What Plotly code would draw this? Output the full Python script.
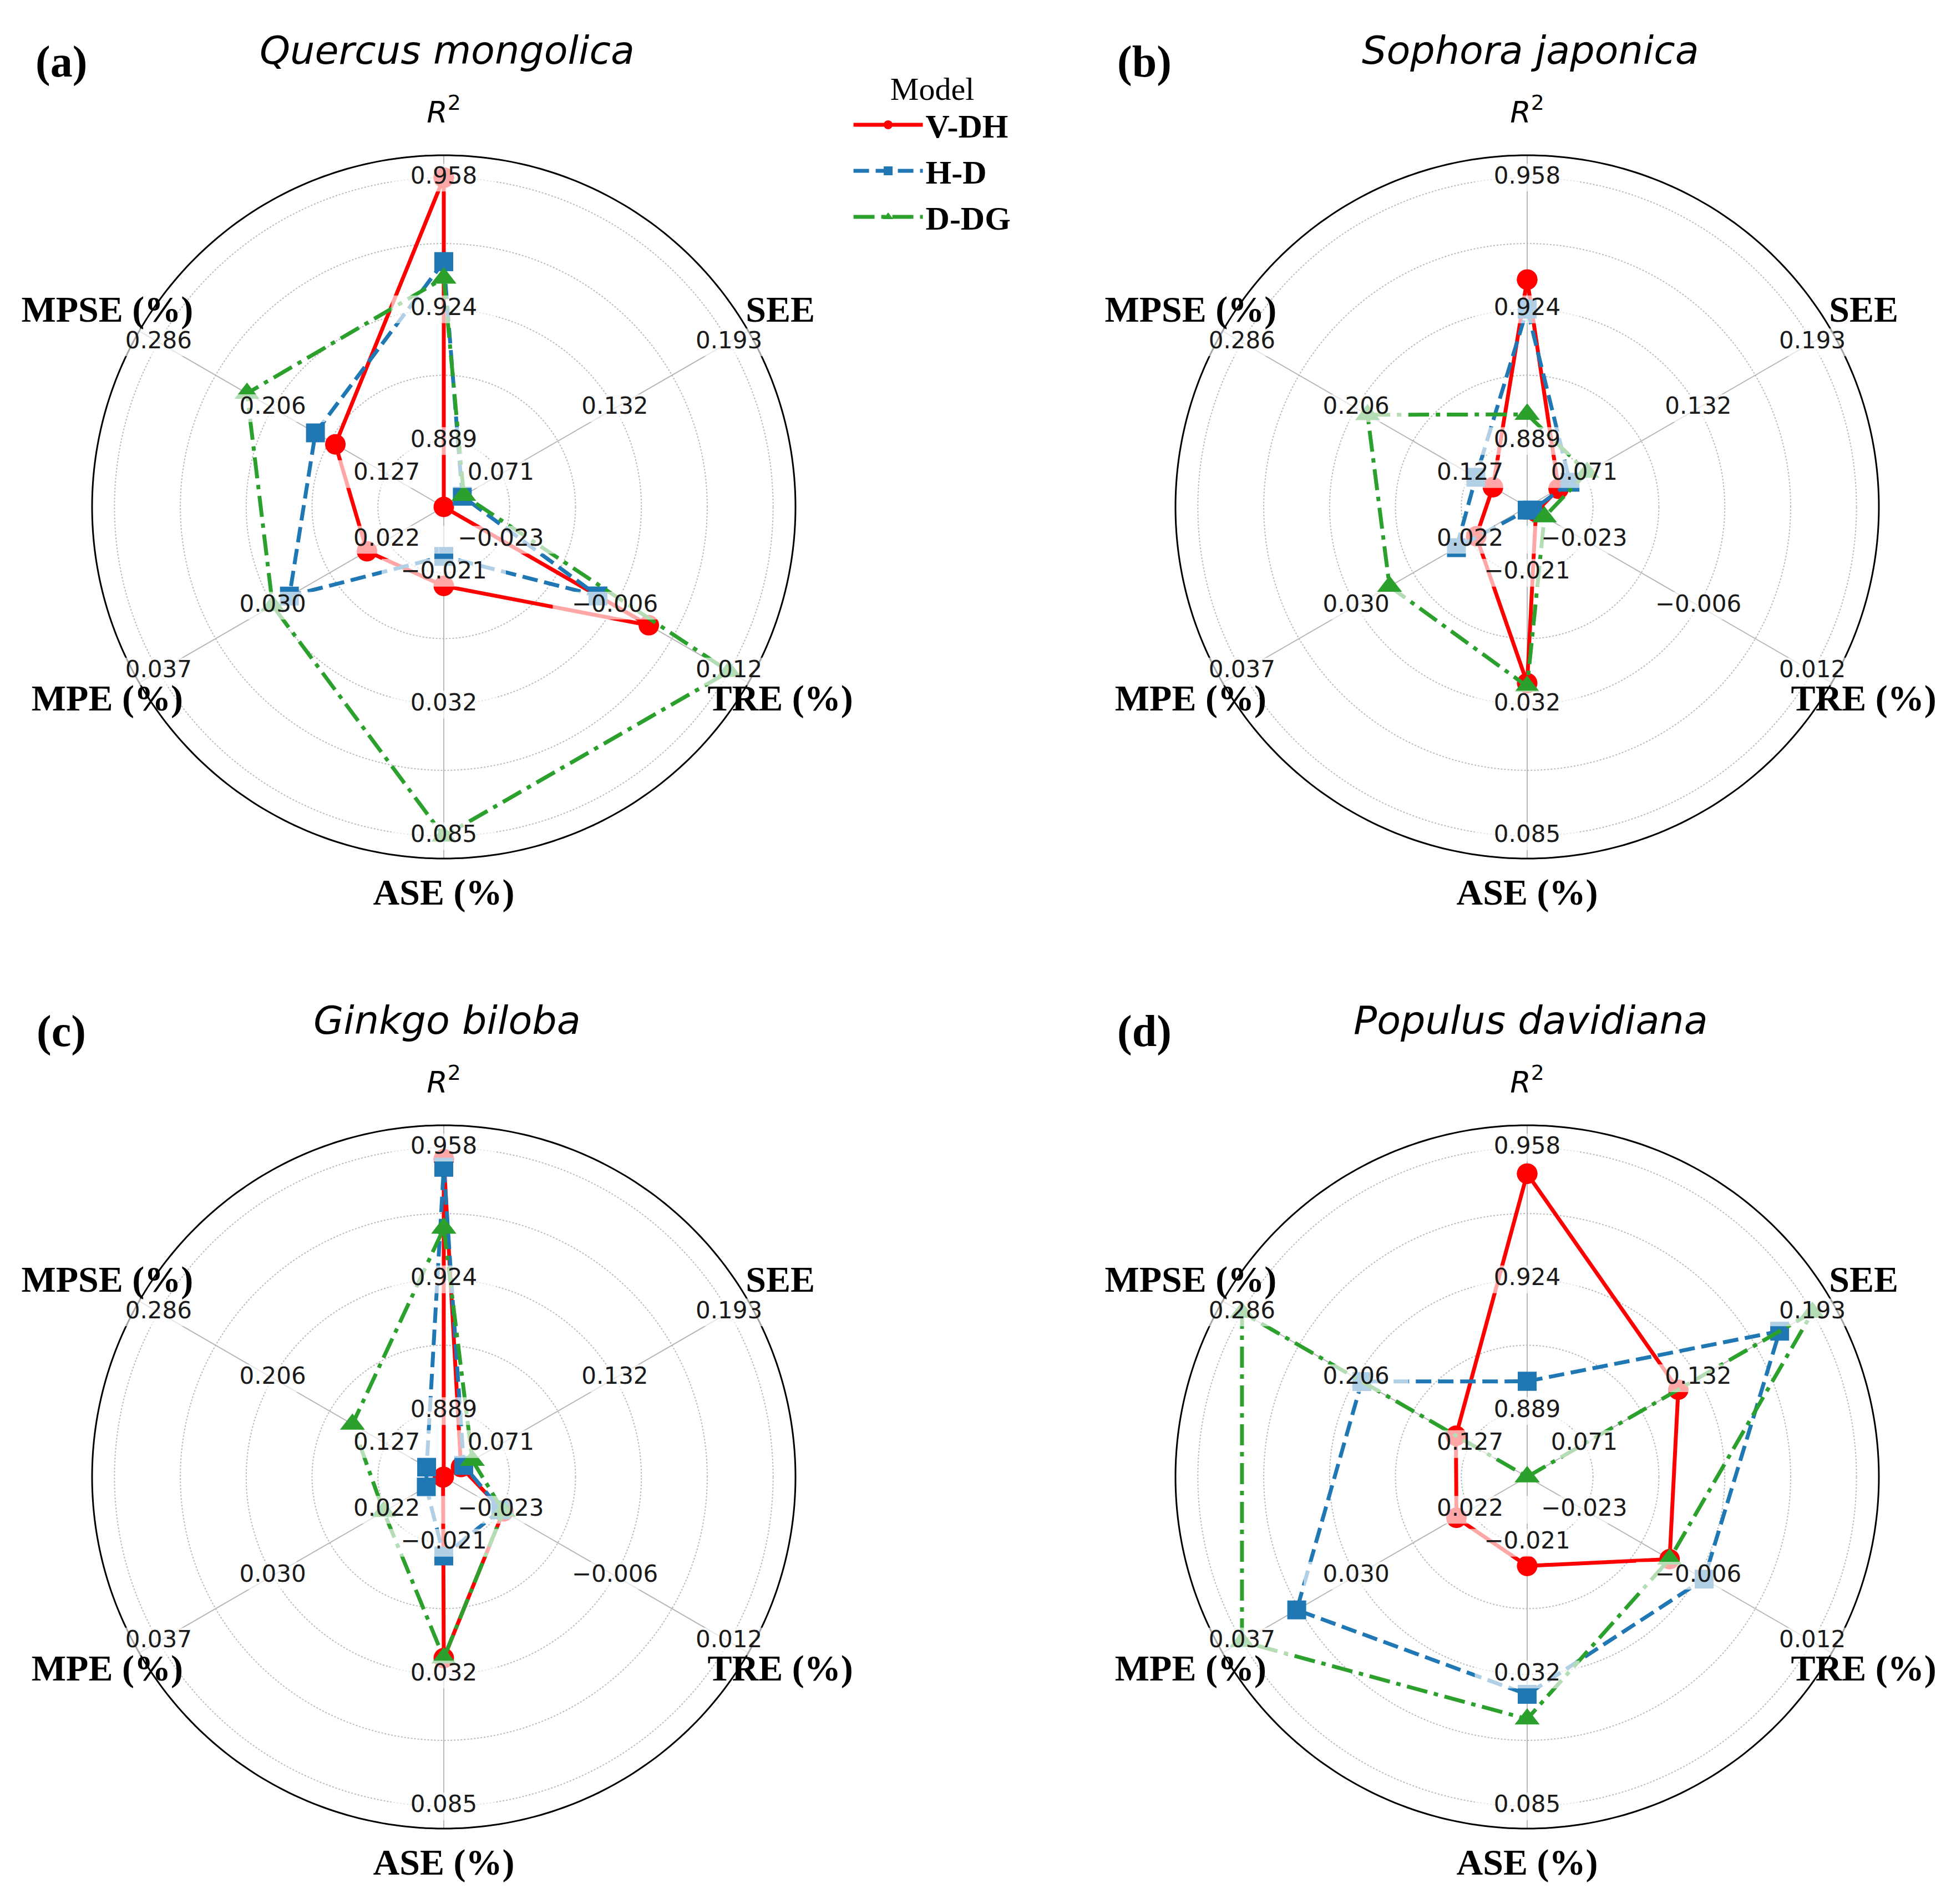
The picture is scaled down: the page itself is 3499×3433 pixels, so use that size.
"""
Radar charts comparing three crown models (V-DH, H-D, D-DG) on six
fit statistics for four tree species. Each spoke has its own scale,
given by the three tick values drawn along it.
"""

import plotly.graph_objects as go


FIG_W = 3499
FIG_H = 3433

# spoke order, clockwise from the top
METRICS = ['R2', 'SEE', 'TRE', 'ASE', 'MPE', 'MPSE']
AXIS_LABELS = ['<i>R</i><sup>2</sup>', '<b>SEE</b>', '<b>TRE (%)</b>',
               '<b>ASE (%)</b>', '<b>MPE (%)</b>', '<b>MPSE (%)</b>']

# tick values on each spoke, shown at radius 0.2, 0.6 and 1.0
TICK_RADII = [0.2, 0.6, 1.0]
r2_ticks = [0.889, 0.924, 0.958]
see_ticks = [0.071, 0.132, 0.193]
tre_ticks = [-0.023, -0.006, 0.012]
ase_ticks = [-0.021, 0.032, 0.085]
mpe_ticks = [0.022, 0.030, 0.037]
mpse_ticks = [0.127, 0.206, 0.286]
TICKS = [r2_ticks, see_ticks, tre_ticks, ase_ticks, mpe_ticks, mpse_ticks]

SPECIES = ['Quercus mongolica', 'Sophora japonica',
           'Ginkgo biloba', 'Populus davidiana']
PANEL_TAGS = ['(a)', '(b)', '(c)', '(d)']
MODELS = ['V-DH', 'H-D', 'D-DG']

# values in METRICS order
quercus_vdh = [0.9580, 0.0405, -0.0003, -0.0157, 0.0233, 0.1628]
quercus_hd = [0.9360, 0.0504, -0.0081, -0.0276, 0.0284, 0.1767]
quercus_ddg = [0.9317, 0.0512, 0.0120, 0.0850, 0.0295, 0.2244]

sophora_vdh = [0.9313, 0.0573, -0.0304, 0.0234, 0.0216, 0.1111]
sophora_hd = [0.9236, 0.0634, -0.0309, -0.0462, 0.0229, 0.1230]
sophora_ddg = [0.8960, 0.0725, -0.0291, 0.0247, 0.0273, 0.1985]

ginkgo_vdh = [0.9550, 0.0497, -0.0226, 0.0254, 0.0183, 0.0873]
ginkgo_hd = [0.9529, 0.0512, -0.0230, -0.0157, 0.0194, 0.0992]
ginkgo_ddg = [0.9369, 0.0558, -0.0226, 0.0254, 0.0222, 0.1509]

populus_vdh = [0.9512, 0.1213, -0.0099, -0.0117, 0.0229, 0.1369]
populus_hd = [0.8968, 0.1755, -0.0046, 0.0400, 0.0334, 0.2025]
populus_ddg = [0.8718, 0.1930, -0.0099, 0.0499, 0.0370, 0.2860]

DATA = [
    [quercus_vdh, quercus_hd, quercus_ddg],
    [sophora_vdh, sophora_hd, sophora_ddg],
    [ginkgo_vdh, ginkgo_hd, ginkgo_ddg],
    [populus_vdh, populus_hd, populus_ddg],
]

STYLES = {
    'V-DH': dict(color='#ff0000', dash='solid', symbol='circle', size=37),
    'H-D': dict(color='#1f77b4', dash='28px,12px', symbol='square', size=34),
    'D-DG': dict(color='#2ca02c', dash='38px,12px,8px,12px',
                 symbol='triangle-up', size=39),
}

# panel centres in pixels (from the top left); the black frame sits at
# R_MAX, and the view reaches R_VIEW so the spoke names fit inside it
CENTERS = [(792, 906), (2745, 906), (792, 2655), (2745, 2655)]
FRAME_PX = 634
R_MAX = 1.068
R_VIEW = 1.25
LABEL_R = 1.18


def to_radius(ticks, value):
    """Maps a metric value onto the normalised radius of its spoke."""
    return 0.2 + 0.8 * (value - ticks[0]) / (ticks[2] - ticks[0])


def tick_text(value):
    return f'{value:.3f}'.replace('-', '\u2212')


def spoke_angles():
    return [i * 360 / len(METRICS) for i in range(len(METRICS))]


def polar_layout(cx, cy):
    half = FRAME_PX * R_VIEW / R_MAX
    x0 = (cx - half) / FIG_W
    x1 = (cx + half) / FIG_W
    y0 = (FIG_H - cy - half) / FIG_H
    y1 = (FIG_H - cy + half) / FIG_H
    return dict(
        domain=dict(x=[x0, x1], y=[y0, y1]),
        bgcolor='rgba(0,0,0,0)',
        radialaxis=dict(range=[0, R_VIEW],
                        tickvals=[0.2, 0.4, 0.6, 0.8, 1.0],
                        showticklabels=False, ticks='', showline=False,
                        gridcolor='#bababa', griddash='dot', gridwidth=2),
        angularaxis=dict(rotation=90, direction='clockwise',
                         showticklabels=False, ticks='', showgrid=False,
                         showline=False),
    )


def add_frame(fig, sub):
    angles = spoke_angles()
    r_sp, t_sp = [], []
    for a in angles:
        r_sp += [0, R_MAX, None]
        t_sp += [a, a, None]
    fig.add_trace(go.Scatterpolar(
        r=r_sp, theta=t_sp, mode='lines', subplot=sub, showlegend=False,
        hoverinfo='skip', line=dict(color='#b8b8b8', width=2)))
    ring = list(range(0, 361))
    fig.add_trace(go.Scatterpolar(
        r=[R_MAX] * len(ring), theta=ring, mode='lines', subplot=sub,
        showlegend=False, hoverinfo='skip',
        line=dict(color='black', width=3)))


def add_panel(fig, k):
    sub = 'polar' if k == 0 else f'polar{k + 1}'
    angles = spoke_angles()
    add_frame(fig, sub)

    for m, model in enumerate(MODELS):
        values = DATA[k][m]
        radii = [to_radius(TICKS[i], v) for i, v in enumerate(values)]
        st = STYLES[model]
        fig.add_trace(go.Scatterpolar(
            r=radii + radii[:1], theta=angles + [360],
            mode='lines+markers', name=model, legendgroup=model,
            showlegend=(k == 0), subplot=sub,
            line=dict(color=st['color'], width=7, dash=st['dash']),
            marker=dict(color=st['color'], symbol=st['symbol'],
                        size=st['size'])))

    # tick labels sit on white boxes that hide the lines beneath
    r_lab, t_lab, s_lab = [], [], []
    for i, ticks in enumerate(TICKS):
        for rad, val in zip(TICK_RADII, ticks):
            r_lab.append(rad)
            t_lab.append(angles[i])
            s_lab.append(tick_text(val))
    fig.add_trace(go.Scatterpolar(
        r=r_lab, theta=t_lab, mode='markers', subplot=sub,
        showlegend=False, hoverinfo='skip',
        marker=dict(symbol='line-ew', size=[len(s) * 25 + 10 for s in s_lab],
                    line=dict(width=50, color='rgba(255,255,255,0.93)'))))
    fig.add_trace(go.Scatterpolar(
        r=r_lab, theta=t_lab, mode='text', text=s_lab, subplot=sub,
        showlegend=False, hoverinfo='skip',
        textfont=dict(family='DejaVu Sans', size=42, color='#1a1a1a')))

    # spoke names just outside the frame
    fig.add_trace(go.Scatterpolar(
        r=[LABEL_R + 0.01], theta=angles[:1], mode='text',
        text=AXIS_LABELS[:1], subplot=sub,
        showlegend=False, hoverinfo='skip',
        textfont=dict(family='DejaVu Sans', size=54, color='black')))
    fig.add_trace(go.Scatterpolar(
        r=[LABEL_R] * (len(METRICS) - 1), theta=angles[1:], mode='text',
        text=AXIS_LABELS[1:], subplot=sub,
        showlegend=False, hoverinfo='skip',
        textfont=dict(family='Liberation Serif', size=66, color='black')))


def main():
    fig = go.Figure()
    for k in range(len(SPECIES)):
        add_panel(fig, k)

    layout = {}
    for k, (cx, cy) in enumerate(CENTERS):
        key = 'polar' if k == 0 else f'polar{k + 1}'
        layout[key] = polar_layout(cx, cy)

    annotations = []
    for k, (cx, cy) in enumerate(CENTERS):
        top = cy - 823
        annotations.append(dict(
            text=f'<i>{SPECIES[k]}</i>', x=(cx + 6) / FIG_W,
            y=1 - top / FIG_H, xref='paper', yref='paper',
            showarrow=False, xanchor='center', yanchor='middle',
            font=dict(family='DejaVu Sans', size=70, color='black')))
        annotations.append(dict(
            text=f'<b>{PANEL_TAGS[k]}</b>', x=(cx - 690) / FIG_W,
            y=1 - (top + 20) / FIG_H, xref='paper', yref='paper',
            showarrow=False, xanchor='center', yanchor='middle',
            font=dict(family='Liberation Serif', size=80, color='black')))

    fig.update_layout(
        **layout,
        annotations=annotations,
        width=FIG_W, height=FIG_H,
        margin=dict(l=0, r=0, t=0, b=0),
        paper_bgcolor='white',
        plot_bgcolor='white',
        legend=dict(
            x=0.436, y=0.972, xanchor='left', yanchor='top',
            bgcolor='rgba(0,0,0,0)', itemwidth=125,
            title=dict(text='Model', side='top center',
                       font=dict(family='Liberation Serif', size=58,
                                 color='black', weight='normal')),
            font=dict(family='Liberation Serif', size=60, color='black',
                      weight='bold'),
            tracegroupgap=2))

    fig.write_html('out.html')


if __name__ == '__main__':
    main()
